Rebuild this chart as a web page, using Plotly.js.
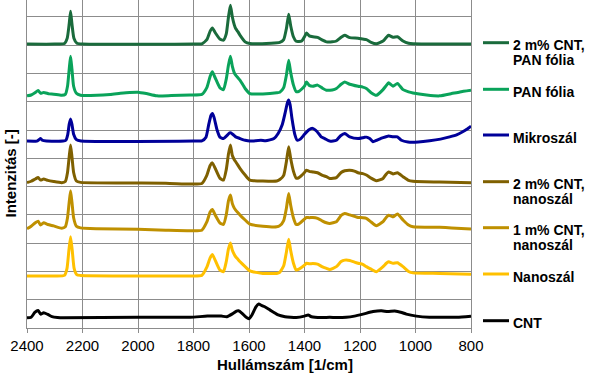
<!DOCTYPE html>
<html>
<head>
<meta charset="utf-8">
<script src="https://cdn.plot.ly/plotly-3.0.1.min.js"></script>
<style>html,body{margin:0;padding:0;background:#fff;}#chart{width:597px;height:373px;}</style>
</head>
<body>
<div id="chart"></div>
<script>
// Series names (legend order, top to bottom)
const seriesNames = [["2 m% CNT,", "PAN fólia"], ["PAN fólia"], ["Mikroszál"], ["2 m% CNT,", "nanoszál"], ["1 m% CNT,", "nanoszál"], ["Nanoszál"], ["CNT"]];
const seriesColors = ["#1a6b3c", "#0aa35a", "#000099", "#7f6000", "#bf9000", "#ffc000", "#000000"];
const xTickVals = [2400, 2200, 2000, 1800, 1600, 1400, 1200, 1000, 800];

// 2 m% CNT, PAN fólia
const wnCntPan = [2400,2300,2265,2255,2248,2243,2238,2231,2220,2200,1800,1770,1752,1740,1732,1722,1705,1692,1682,1674,1667,1660,1653,1648,1640,1632,1614,1597,1520,1489,1475,1465,1457,1450,1440,1430,1410,1400,1393,1383,1370,1353,1335,1321,1300,1285,1268,1255,1237,1207,1190,1177,1160,1141,1117,1105,1097,1081,1065,1045,1025,1009,900,800];
const intCntPan = [10.04,10.04,10.06,10.25,10.75,11.20,10.75,10.25,10.07,10.04,10.04,10.05,10.20,10.50,10.61,10.45,10.22,10.18,10.40,11.00,11.41,11.00,10.72,10.59,10.48,10.35,10.12,10.06,10.07,10.10,10.20,10.60,11.10,10.70,10.30,10.14,10.15,10.30,10.43,10.33,10.30,10.28,10.18,10.12,10.12,10.15,10.28,10.35,10.27,10.25,10.22,10.20,10.10,10.05,10.15,10.28,10.35,10.28,10.30,10.15,10.07,10.05,10.04,10.04];

// PAN fólia
const wnPan = [2400,2385,2370,2360,2351,2340,2320,2304,2275,2262,2254,2248,2243,2238,2232,2222,2207,2148,2100,2064,2030,2000,1970,1932,1880,1812,1770,1752,1740,1732,1722,1705,1692,1682,1674,1667,1660,1653,1648,1640,1632,1614,1597,1550,1500,1489,1475,1465,1457,1450,1440,1430,1420,1400,1393,1383,1370,1353,1335,1321,1300,1285,1268,1255,1237,1207,1190,1177,1160,1141,1117,1105,1097,1081,1065,1045,1025,1009,960,913,870,840,800];
const intPan = [8.21,8.24,8.33,8.40,8.30,8.33,8.28,8.27,8.23,8.26,8.55,9.15,9.61,9.15,8.55,8.30,8.23,8.23,8.26,8.30,8.33,8.34,8.29,8.21,8.22,8.24,8.26,8.50,8.90,9.06,8.85,8.50,8.43,8.80,9.30,9.61,9.25,9.02,8.94,8.85,8.76,8.47,8.29,8.28,8.32,8.34,8.50,8.95,9.47,9.05,8.60,8.36,8.37,8.55,8.70,8.58,8.55,8.59,8.48,8.41,8.42,8.47,8.62,8.70,8.62,8.55,8.52,8.47,8.32,8.23,8.43,8.58,8.67,8.55,8.65,8.43,8.35,8.31,8.24,8.21,8.29,8.35,8.41];

// Mikroszál
const wnMikro = [2400,2365,2357,2351,2345,2330,2270,2260,2253,2248,2243,2238,2232,2222,2205,1800,1770,1755,1745,1737,1732,1726,1715,1705,1692,1680,1670,1665,1655,1648,1632,1614,1597,1557,1540,1510,1495,1480,1470,1462,1457,1452,1445,1435,1426,1415,1400,1385,1371,1355,1340,1327,1309,1285,1270,1255,1237,1207,1185,1177,1165,1153,1140,1117,1097,1081,1065,1051,1027,990,949,910,877,850,830,815,800];
const intMikro = [6.61,6.61,6.66,6.70,6.64,6.61,6.61,6.64,6.85,7.20,7.39,7.20,6.85,6.66,6.61,6.61,6.62,6.75,7.20,7.52,7.59,7.45,7.00,6.75,6.70,6.80,6.90,6.90,6.82,6.76,6.70,6.64,6.61,6.64,6.62,6.70,6.88,7.20,7.60,7.95,8.06,7.90,7.40,6.85,6.64,6.68,6.85,7.00,7.06,6.95,6.76,6.70,6.61,6.64,6.80,6.88,6.76,6.70,6.74,6.75,6.70,6.59,6.64,6.73,6.79,6.76,6.76,6.64,6.58,6.58,6.62,6.68,6.76,6.84,6.94,7.03,7.14];

// 2 m% CNT, nanoszál
const wnCnt2Nano = [2400,2385,2370,2360,2351,2340,2325,2304,2275,2262,2254,2248,2243,2238,2232,2222,2207,1900,1812,1770,1752,1740,1732,1722,1705,1692,1682,1674,1667,1660,1653,1648,1640,1632,1614,1597,1550,1500,1489,1475,1465,1457,1450,1440,1430,1420,1400,1393,1383,1370,1353,1335,1321,1309,1285,1268,1255,1237,1220,1207,1190,1177,1160,1141,1117,1105,1097,1081,1065,1045,1025,1009,913,800];
const intCnt2Nano = [5.14,5.19,5.27,5.32,5.23,5.27,5.22,5.18,5.14,5.18,5.50,6.05,6.47,6.05,5.50,5.20,5.15,5.12,5.09,5.11,5.40,5.75,5.84,5.65,5.30,5.23,5.60,6.15,6.47,6.10,5.95,5.88,5.76,5.64,5.41,5.23,5.20,5.20,5.25,5.40,5.90,6.41,6.00,5.55,5.30,5.32,5.50,5.58,5.54,5.52,5.49,5.40,5.35,5.29,5.32,5.50,5.56,5.58,5.55,5.49,5.46,5.41,5.30,5.21,5.29,5.45,5.52,5.45,5.49,5.35,5.22,5.19,5.16,5.14];

// 1 m% CNT, nanoszál
const wnCnt1Nano = [2400,2385,2370,2360,2351,2340,2325,2304,2275,2262,2254,2248,2243,2238,2232,2222,2207,2148,2000,1900,1812,1770,1752,1740,1732,1722,1705,1692,1682,1674,1667,1660,1653,1648,1640,1632,1614,1597,1550,1500,1489,1475,1465,1457,1450,1440,1430,1420,1400,1393,1383,1370,1353,1335,1321,1309,1285,1268,1255,1237,1220,1207,1190,1177,1160,1141,1117,1105,1097,1081,1065,1045,1025,1009,913,870,800];
const intCnt1Nano = [3.51,3.60,3.72,3.78,3.64,3.72,3.66,3.61,3.53,3.58,3.90,4.45,4.85,4.45,3.90,3.60,3.54,3.51,3.49,3.46,3.44,3.46,3.75,4.10,4.19,4.00,3.72,3.66,4.00,4.50,4.70,4.40,4.24,4.17,4.08,3.99,3.82,3.67,3.60,3.58,3.62,3.80,4.25,4.76,4.35,3.90,3.66,3.68,3.85,3.91,3.90,3.91,3.88,3.78,3.72,3.70,3.76,3.98,4.05,4.00,3.95,3.91,3.90,3.88,3.75,3.62,3.76,3.92,3.99,3.93,4.03,3.82,3.64,3.58,3.56,3.54,3.50];

// Nanoszál
const wnNano = [2400,2300,2265,2256,2249,2243,2237,2230,2220,2207,2000,1812,1770,1752,1740,1732,1722,1705,1692,1682,1674,1667,1660,1653,1648,1640,1632,1614,1597,1550,1500,1489,1475,1465,1457,1450,1440,1430,1420,1400,1393,1383,1370,1353,1335,1321,1309,1285,1268,1255,1237,1220,1207,1190,1177,1160,1141,1117,1105,1097,1081,1065,1045,1025,1009,913,800];
const intNano = [1.84,1.84,1.86,2.10,2.75,3.23,2.75,2.10,1.88,1.86,1.84,1.84,1.86,2.15,2.48,2.60,2.40,2.05,1.99,2.35,2.80,3.01,2.75,2.60,2.52,2.43,2.34,2.17,2.02,1.93,1.93,1.97,2.20,2.70,3.14,2.75,2.30,2.05,2.08,2.22,2.29,2.27,2.28,2.26,2.16,2.11,2.07,2.17,2.35,2.40,2.39,2.33,2.29,2.25,2.17,2.08,1.99,2.17,2.29,2.34,2.29,2.31,2.17,2.00,1.95,1.93,1.90];

// CNT
const wnCnt = [2400,2385,2372,2360,2351,2340,2325,2310,2290,2268,2000,1812,1750,1700,1680,1660,1645,1638,1625,1610,1600,1590,1575,1565,1555,1545,1525,1510,1495,1470,1450,1430,1400,1387,1375,1340,1309,1285,1250,1220,1189,1153,1123,1100,1075,1050,1033,997,950,913,850,800];
const intCnt = [0.36,0.38,0.55,0.62,0.49,0.54,0.48,0.40,0.37,0.36,0.38,0.38,0.42,0.42,0.40,0.50,0.60,0.61,0.52,0.38,0.33,0.45,0.75,0.85,0.80,0.76,0.64,0.55,0.46,0.40,0.38,0.37,0.42,0.46,0.40,0.37,0.38,0.37,0.38,0.42,0.49,0.58,0.61,0.58,0.60,0.55,0.49,0.42,0.38,0.38,0.38,0.42];

const xData = [wnCntPan, wnPan, wnMikro, wnCnt2Nano, wnCnt1Nano, wnNano, wnCnt];
const yData = [intCntPan, intPan, intMikro, intCnt2Nano, intCnt1Nano, intNano, intCnt];

const FONT = '"Liberation Sans", Arial, sans-serif';
const GRID = '#8c8c8c';

const traces = xData.map((xs, i) => ({
  x: xs, y: yData[i], type: 'scatter', mode: 'lines',
  name: seriesNames[i].join(' '),
  line: {color: seriesColors[i], width: 3, shape: 'spline', smoothing: 0.5},
  showlegend: false, hoverinfo: 'skip'
}));

// Custom legend (line sample + text), positioned in paper coords
const plotL = 27, plotW = 444, plotH = 328;
const px2x = p => (p - plotL) / plotW;
const py2y = p => (plotH - p) / plotH;
const legendLineY = [42.7, 89.3, 135, 181.7, 227.7, 274, 320.7];
const shapes = [];
const annotations = [];
seriesNames.forEach((lines, i) => {
  const ly = legendLineY[i];
  shapes.push({type: 'line', xref: 'paper', yref: 'paper',
    x0: px2x(483), x1: px2x(509), y0: py2y(ly), y1: py2y(ly),
    line: {color: seriesColors[i], width: 3}});
  lines.forEach((t, k) => {
    annotations.push({xref: 'paper', yref: 'paper', x: px2x(511), y: py2y(ly + 2.5 + 15 * k),
      xanchor: 'left', yanchor: 'middle', showarrow: false, text: '<b>' + t + '</b>',
      font: {family: FONT, size: 14, color: '#000'}});
  });
});
annotations.push({xref: 'paper', yref: 'paper', x: px2x(285), y: py2y(364), xanchor: 'center', yanchor: 'middle',
  showarrow: false, text: '<b>Hullámszám [1/cm]</b>', font: {family: FONT, size: 15, color: '#000'}});
annotations.push({xref: 'paper', yref: 'paper', x: px2x(9.5), y: py2y(174), xanchor: 'center', yanchor: 'middle',
  textangle: -90, showarrow: false, text: '<b>Intenzitás [-]</b>', font: {family: FONT, size: 15, color: '#000'}});

const layout = {
  width: 597, height: 373,
  margin: {l: 27, r: 126, t: 0, b: 45, pad: 0},
  paper_bgcolor: '#fff', plot_bgcolor: '#fff',
  showlegend: false,
  xaxis: {range: [2400, 800], tickvals: xTickVals, ticktext: xTickVals.map(String),
    showgrid: true, gridcolor: GRID, gridwidth: 1, zeroline: false,
    showline: true, linecolor: GRID, linewidth: 1,
    ticks: 'outside', ticklen: 4, tickcolor: GRID,
    tickfont: {family: FONT, size: 15, color: '#000'}, automargin: false, fixedrange: true},
  yaxis: {range: [0, 11.6], dtick: 1, tick0: 0, showticklabels: false,
    showgrid: true, gridcolor: GRID, gridwidth: 1, zeroline: false,
    showline: true, linecolor: GRID, linewidth: 1, mirror: true, ticks: '',
    automargin: false, fixedrange: true},
  shapes: shapes, annotations: annotations
};

Plotly.newPlot('chart', traces, layout, {displayModeBar: false, staticPlot: true});
</script>
</body>
</html>
